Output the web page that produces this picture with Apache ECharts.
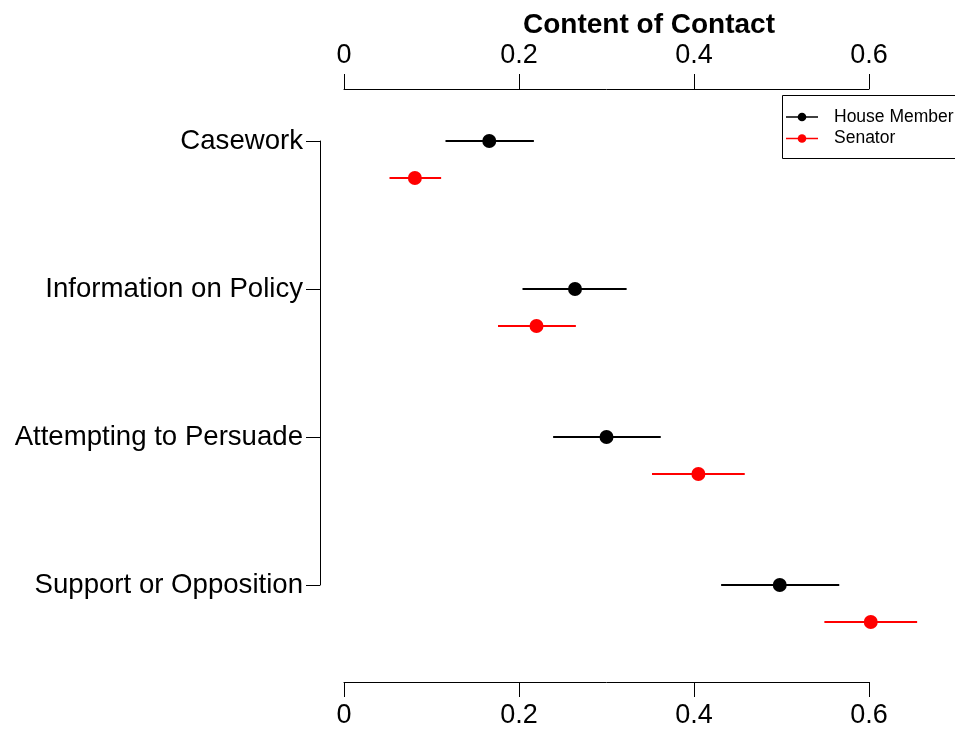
<!DOCTYPE html>
<html>
<head>
<meta charset="utf-8">
<script src="https://cdn.jsdelivr.net/npm/echarts@6/dist/echarts.min.js"></script>
<style>
  html, body { margin: 0; padding: 0; background: #ffffff; }
  #chart { width: 955px; height: 730px; }
</style>
</head>
<body>
<div id="chart"></div>
<script>
// Contact content categories, one row each (top to bottom)
const categories = ['Casework', 'Information on Policy', 'Attempting to Persuade', 'Support or Opposition'];

// Point estimates with interval bounds, by who was contacted
const houseEst = [0.166, 0.264, 0.300, 0.498];
const houseLo  = [0.116, 0.204, 0.239, 0.431];
const houseHi  = [0.217, 0.323, 0.362, 0.566];

const senEst = [0.081, 0.220, 0.405, 0.602];
const senLo  = [0.052, 0.176, 0.352, 0.549];
const senHi  = [0.111, 0.265, 0.458, 0.655];

const xTicks = [0, 0.2, 0.4, 0.6];
const seriesNames = ['House Member', 'Senator'];
const seriesColors = ['#000000', '#ff0000'];

const FONT = "'Liberation Sans', Arial, Helvetica, sans-serif";
const ROW_SHIFT = 0.25;   // senator row sits just below the house row

function rows(est, lo, hi, shift) {
  return est.map((v, i) => [v, i + 1 + shift, lo[i], hi[i]]);
}
const houseRows = rows(houseEst, houseLo, houseHi, 0);
const senRows = rows(senEst, senLo, senHi, ROW_SHIFT);

function errorBar(color) {
  return function (params, api) {
    const y = api.value(1);
    const a = api.coord([api.value(2), y]);
    const b = api.coord([api.value(3), y]);
    return {
      type: 'line',
      shape: { x1: a[0], y1: a[1], x2: b[0], y2: b[1] },
      style: { stroke: color, lineWidth: 2 }
    };
  };
}

function tickText(v) {
  return v === 0 ? '0' : v.toFixed(1);
}

const xAxisBase = {
  type: 'value',
  gridIndex: 0,
  min: xTicks[0],
  max: xTicks[xTicks.length - 1],
  interval: 0.2,
  splitLine: { show: false },
  axisLine: { show: true, lineStyle: { color: '#000', width: 1 } },
  axisTick: { show: true, length: 15, lineStyle: { color: '#000', width: 1 } },
  axisLabel: { fontSize: 27, color: '#000', fontFamily: FONT, margin: 20, formatter: tickText }
};

const rowAxisBase = {
  type: 'value',
  min: 1,
  max: 4,
  interval: 1,
  inverse: true,
  splitLine: { show: false }
};

const chart = echarts.init(document.getElementById('chart'), null, { renderer: 'canvas' });

chart.setOption({
  backgroundColor: '#ffffff',
  animation: false,
  title: {
    text: 'Content of Contact',
    left: 644,
    top: 6,
    textAlign: 'center',
    textStyle: { fontSize: 28, fontWeight: 'bold', color: '#000', fontFamily: FONT }
  },
  grid: [
    // plotting area for the estimates
    { left: 344, right: 86, top: 141, bottom: 145, containLabel: false },
    // category axis set slightly apart to the left
    { left: 320, right: 86, top: 141, bottom: 145, containLabel: false }
  ],
  xAxis: [
    Object.assign({}, xAxisBase, { position: 'top', offset: 52 }),
    Object.assign({}, xAxisBase, { position: 'bottom', offset: 97 }),
    { type: 'value', gridIndex: 1, min: 0, max: 1, show: false }
  ],
  yAxis: [
    Object.assign({}, rowAxisBase, { gridIndex: 0, show: false }),
    Object.assign({}, rowAxisBase, {
      gridIndex: 1,
      position: 'left',
      axisLine: { show: true, lineStyle: { color: '#000', width: 1 } },
      axisTick: { show: true, length: 14, lineStyle: { color: '#000', width: 1 } },
      axisLabel: {
        fontSize: 27.6, color: '#000', fontFamily: FONT, margin: 17,
        padding: [4, 0, 0, 0],
        formatter: v => categories[Math.round(v) - 1] || ''
      }
    })
  ],
  series: [
    {
      name: seriesNames[0] + ' interval',
      type: 'custom',
      xAxisIndex: 0,
      yAxisIndex: 0,
      clip: false,
      renderItem: errorBar(seriesColors[0]),
      encode: { x: [0, 2, 3], y: 1 },
      data: houseRows,
      z: 2
    },
    {
      name: seriesNames[1] + ' interval',
      type: 'custom',
      xAxisIndex: 0,
      yAxisIndex: 0,
      clip: false,
      renderItem: errorBar(seriesColors[1]),
      encode: { x: [0, 2, 3], y: 1 },
      data: senRows,
      z: 2
    },
    {
      name: seriesNames[0],
      type: 'scatter',
      xAxisIndex: 0,
      yAxisIndex: 0,
      clip: false,
      symbol: 'circle',
      symbolSize: 14,
      itemStyle: { color: seriesColors[0], opacity: 1 },
      data: houseRows.map(r => [r[0], r[1]]),
      z: 3
    },
    {
      name: seriesNames[1],
      type: 'scatter',
      xAxisIndex: 0,
      yAxisIndex: 0,
      clip: false,
      symbol: 'circle',
      symbolSize: 14,
      itemStyle: { color: seriesColors[1], opacity: 1 },
      data: senRows.map(r => [r[0], r[1]]),
      z: 3
    }
  ],
  // Key in the upper right: line-and-dot swatches beside each group name
  graphic: [
    {
      type: 'rect',
      shape: { x: 782.5, y: 95.5, width: 190, height: 63 },
      style: { fill: '#ffffff', stroke: '#000', lineWidth: 1 },
      z: 10
    }
  ].concat(seriesNames.flatMap((name, i) => {
    const y = 117 + i * 21.5;
    return [
      { type: 'line', shape: { x1: 786, y1: y, x2: 818, y2: y },
        style: { stroke: seriesColors[i], lineWidth: 1.5 }, z: 11 },
      { type: 'circle', shape: { cx: 802, cy: y, r: 4.3 },
        style: { fill: seriesColors[i] }, z: 11 },
      { type: 'text', x: 834, y: y,
        style: { text: name, fontSize: 17.5, fontFamily: FONT, fill: '#000',
                 textVerticalAlign: 'middle', verticalAlign: 'middle' }, z: 11 }
    ];
  }))
});
</script>
</body>
</html>
